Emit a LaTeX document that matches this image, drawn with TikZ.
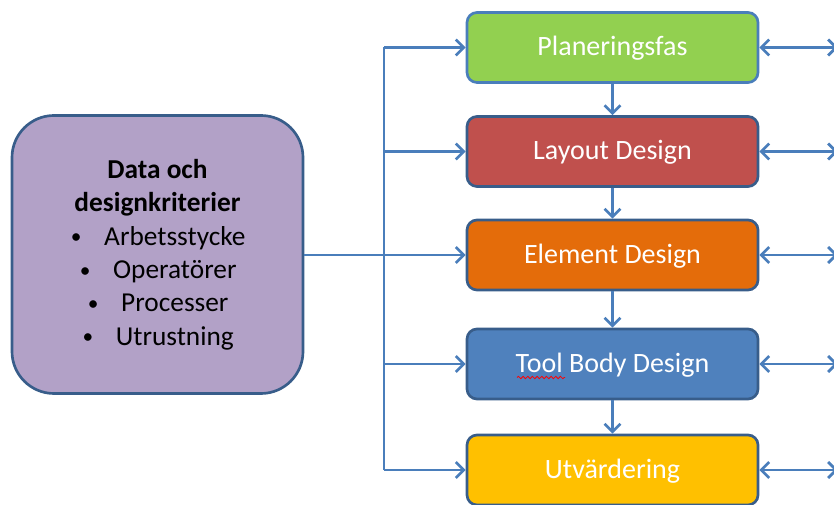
\documentclass[tikz,border=0pt]{standalone}
\usepackage{fontspec}
\setmainfont{Carlito}
\usetikzlibrary{arrows.meta,decorations.pathmorphing}
\definecolor{cline}{HTML}{4A7EBB}
\definecolor{cborder}{HTML}{385D8A}
\definecolor{cgreen}{HTML}{92D050}
\definecolor{cred}{HTML}{C0504D}
\definecolor{corange}{HTML}{E46C0A}
\definecolor{cblue}{HTML}{4F81BD}
\definecolor{cyellow}{HTML}{FFC000}
\definecolor{cpurple}{HTML}{B2A1C7}
\tikzset{
  phase/.style={draw=cborder, line width=2pt, rounded corners=7.5pt,
    minimum width=218.25pt, minimum height=52.5pt, inner sep=0pt,
    text height=15.75pt, text depth=3.15pt,
    text=white, font=\fontsize{21}{25}\selectfont},
  databox/.style={draw=cborder, line width=2pt, rounded corners=31.5pt,
    fill=cpurple, minimum width=218.25pt, minimum height=208.5pt, inner sep=0pt,
    align=center, font=\fontsize{20.5}{25}\selectfont},
  conn/.style={draw=cline, line width=2pt, -{Straight Barb[length=6pt,width=12pt,line width=2pt]}},
  conn2/.style={draw=cline, line width=2pt, {Straight Barb[length=6pt,width=12pt,line width=2pt]}-{Straight Barb[length=6pt,width=12pt,line width=2pt]}},
  trunk/.style={draw=cline, line width=2pt}
}
\newcommand{\bul}[1]{\makebox[26pt][l]{\hspace{1pt}\raisebox{1pt}{\fontsize{16}{16}\selectfont\textbullet}}#1}
\begin{document}
\begin{tikzpicture}[x=0.75pt,y=-0.75pt]
\useasboundingbox (0,0) rectangle (834,505);
\node[phase, fill=cgreen, draw=cline] (plan) at (612.5,47.5) {Planeringsfas};
\node[phase, fill=cred] (layout) at (612.5,151.5) {Layout Design};
\node[phase, fill=corange] (element) at (612.5,255) {Element Design};
\node[phase, fill=cblue] (tool) at (612.5,364) {Tool Body Design};
\node[phase, fill=cyellow] (utv) at (612.5,470) {Utvärdering};
\node[databox] (data) at (157.5,254.5) {\textbf{Data och}\\\textbf{designkriterier}\\\bul{Arbetsstycke}\\\bul{Operatörer}\\\bul{Processer}\\\bul{Utrustning}};
% red spell-check squiggle
\draw[red, line width=0.6pt, decorate, decoration={snake, amplitude=0.9, segment length=3.5}] (517,377.5) -- (565,377.5);
% trunk
\coordinate (t1) at (384,47.5);
\coordinate (t5) at (384,470);
\draw[trunk] (t1) -- (t5);
\draw[conn] (t1) -- (plan.west);
\draw[conn] (t1|-layout) -- (layout.west);
\draw[conn] (data.east|-element) -- (element.west);
\draw[conn] (t1|-tool) -- (tool.west);
\draw[conn] (t1|-utv) -- (utv.west);
% vertical flow
\draw[conn] (plan) -- (layout);
\draw[conn] (layout) -- (element);
\draw[conn] (element) -- (tool);
\draw[conn] (tool) -- (utv);
% right double arrows
\coordinate (rx) at (838,0);
\draw[conn2] (plan.east) -- (plan.east-|rx);
\draw[conn2] (layout.east) -- (layout.east-|rx);
\draw[conn2] (element.east) -- (element.east-|rx);
\draw[conn2] (tool.east) -- (tool.east-|rx);
\draw[conn2] (utv.east) -- (utv.east-|rx);
\end{tikzpicture}
\end{document}
